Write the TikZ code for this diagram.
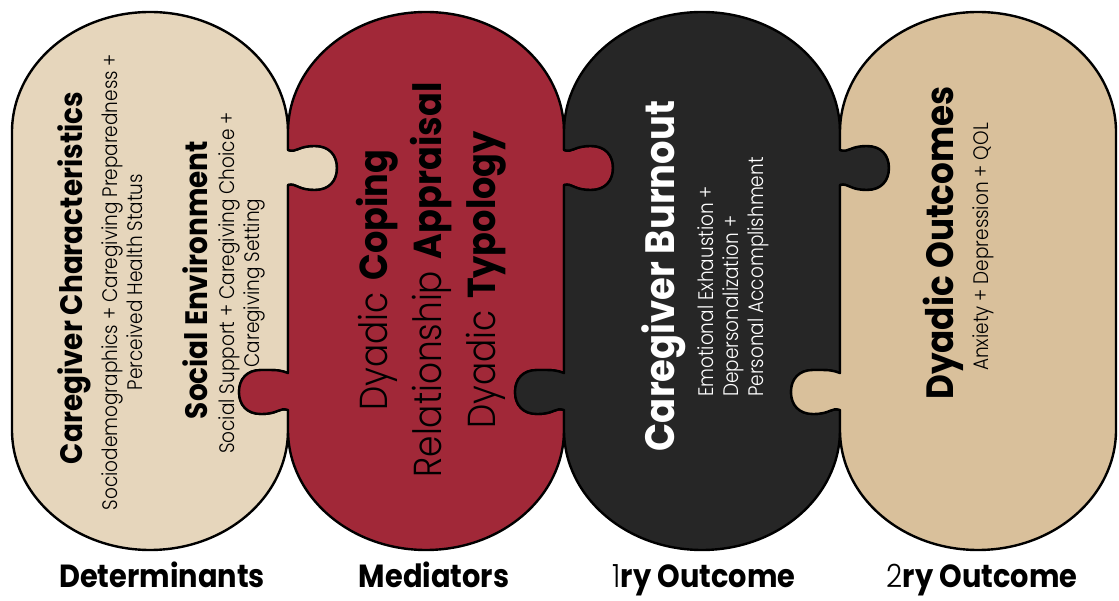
\documentclass[tikz,border=0pt]{standalone}
\usepackage{fontspec}
\usepackage{xcolor}
\usepackage{tikz}
\usetikzlibrary{positioning}
\newfontfamily\heavyfont[FakeStretch=0.9]{Poppins Bold}
\newfontfamily\litefont[FakeStretch=0.88]{Poppins Light}
\definecolor{cdet}{RGB}{230,214,188}
\definecolor{cmed}{RGB}{161,40,56}
\definecolor{cprim}{RGB}{38,38,38}
\definecolor{csec}{RGB}{217,192,155}

\begin{document}
\begin{tikzpicture}[x=1pt, y=1pt,
          every node/.style={inner sep=0pt},
          piece/.style={draw=black, line width=2.4pt, line join=round},
          hd/.style={font=\heavyfont\fontsize{31}{34}\selectfont, rotate=90},
          sub/.style={font=\litefont\fontsize{21}{25}\selectfont, rotate=90, align=center},
          big/.style={font=\fontsize{39}{54}\selectfont, rotate=90, align=center},
          stage/.style={font=\heavyfont\fontsize{32}{36}\selectfont, anchor=base},
          % seam between two pieces: knob to the right on top, to the left below
          seam down/.style={insert path={
            -- (#1,-150)
            .. controls (#1+9,-153) and (#1+9,-146) .. (#1+27,-146)
            .. controls (#1+41,-146) and (#1+49,-155) .. (#1+49,-168)
            .. controls (#1+49,-181) and (#1+41,-190) .. (#1+27,-190)
            .. controls (#1+9,-190) and (#1+9,-183) .. (#1,-185)
            -- (#1,-373)
            .. controls (#1-9,-370) and (#1-9,-370) .. (#1-27,-370)
            .. controls (#1-41,-370) and (#1-49,-379) .. (#1-49,-392)
            .. controls (#1-49,-405) and (#1-41,-414) .. (#1-27,-414)
            .. controls (#1-9,-414) and (#1-9,-407) .. (#1,-410)
            -- (#1,-430)}},
          seam up/.style={insert path={
            -- (#1,-410)
            .. controls (#1-9,-407) and (#1-9,-414) .. (#1-27,-414)
            .. controls (#1-41,-414) and (#1-49,-405) .. (#1-49,-392)
            .. controls (#1-49,-379) and (#1-41,-370) .. (#1-27,-370)
            .. controls (#1-9,-370) and (#1-9,-370) .. (#1,-373)
            -- (#1,-185)
            .. controls (#1+9,-183) and (#1+9,-190) .. (#1+27,-190)
            .. controls (#1+41,-190) and (#1+49,-181) .. (#1+49,-168)
            .. controls (#1+49,-155) and (#1+41,-146) .. (#1+27,-146)
            .. controls (#1+9,-146) and (#1+9,-153) .. (#1,-150)
            -- (#1,-132)}},
        ]

          \useasboundingbox (0,0) rectangle (1119,-601);

          \def\rx{138}
          \def\ry{120}

          % ── Puzzle pieces ─────────────────────────────────────
          \filldraw[piece, fill=cdet] (12,-132)
            arc[start angle=180, end angle=0, x radius=\rx, y radius=\ry]
            [seam down=288]
            arc[start angle=0, end angle=-180, x radius=\rx, y radius=\ry]
            -- cycle;
          \filldraw[piece, fill=cmed] (288,-132)
            arc[start angle=180, end angle=0, x radius=\rx, y radius=\ry]
            [seam down=564]
            arc[start angle=0, end angle=-180, x radius=\rx, y radius=\ry]
            [seam up=288] -- cycle;
          \filldraw[piece, fill=cprim] (564,-132)
            arc[start angle=180, end angle=0, x radius=\rx, y radius=\ry]
            [seam down=840]
            arc[start angle=0, end angle=-180, x radius=\rx, y radius=\ry]
            [seam up=564] -- cycle;
          \filldraw[piece, fill=csec] (840,-132)
            arc[start angle=180, end angle=0, x radius=\rx, y radius=\ry]
            -- (1116,-430)
            arc[start angle=0, end angle=-180, x radius=\rx, y radius=\ry]
            [seam up=840] -- cycle;

          % ── Determinants ─────────────────────────────────────
          \node[hd] (car)    at (74,-278)  {Caregiver Characteristics};
          \node[sub] (carS)  at (122,-282)
            {Sociodemographics + Caregiving Preparedness +\\Perceived Health Status};
          \node[hd] (soc)    at (195,-280) {Social Environment};
          \node[sub] (socS)  at (242,-283)
            {Social Support + Caregiving Choice +\\Caregiving Setting};

          % ── Mediators ────────────────────────────────────────
          \node[big] (med) at (431,-280)
            {{\litefont Dyadic} {\heavyfont Coping}\\
             {\litefont Relationship} {\heavyfont Appraisal}\\
             {\litefont Dyadic} {\heavyfont Typology}};

          % ── Outcomes ─────────────────────────────────────────
          \node[hd, font=\heavyfont\fontsize{41}{44}\selectfont, text=white] (burn)
            at (664,-276) {Caregiver Burnout};
          \node[sub, align=left, anchor=west, text=white] (burnS) at (733,-397)
            {Emotional Exhaustion +\\Depersonalization +\\Personal Accomplishment};
          \node[hd, font=\heavyfont\fontsize{38}{40}\selectfont] (dyo)
            at (943,-243) {Dyadic Outcomes};
          \node[sub] (dyoS) at (983,-247) {Anxiety + Depression + QOL};

          % ── Stage labels ─────────────────────────────────────
          \node[stage] (lDet) at (162,-587) {Determinants};
          \node[stage] (lMed) at (434,-587) {Mediators};
          \node[stage] (lPri) at (704,-587) {{\litefont 1}ry Outcome};
          \node[stage] (lSec) at (982,-587) {{\litefont 2}ry Outcome};

        \end{tikzpicture}
\end{document}
